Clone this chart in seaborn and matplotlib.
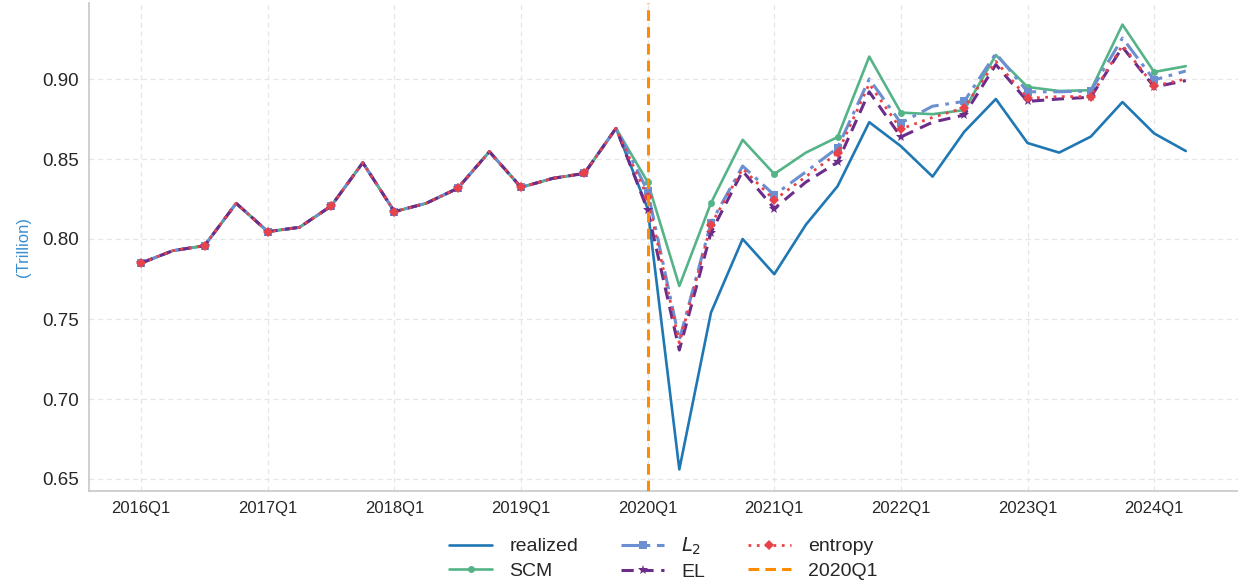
import numpy as np
import pandas as pd
import matplotlib
matplotlib.use("Agg")
import matplotlib.pyplot as plt
import seaborn as sns

# ---------------- data ----------------
quarters = [f"{y}Q{q}" for y in range(2016, 2025) for q in range(1, 5)][:34]
tick_labels = [f"{y}Q1" for y in range(2016, 2025)]

realized = [0.785, 0.7927, 0.7958, 0.8223, 0.8046, 0.8073, 0.8206, 0.8477,
            0.8171, 0.8223, 0.8317, 0.8546, 0.8323, 0.8379, 0.841, 0.8692,
            0.819, 0.656, 0.754, 0.800, 0.778, 0.809, 0.833, 0.873,
            0.858, 0.839, 0.867, 0.8875, 0.860, 0.854, 0.864, 0.8856,
            0.866, 0.855]
scm = [0.785, 0.7927, 0.7958, 0.8223, 0.8046, 0.8073, 0.8206, 0.8477,
       0.8171, 0.8223, 0.8317, 0.8546, 0.8323, 0.8379, 0.841, 0.8692,
       0.8356, 0.7706, 0.8225, 0.862, 0.8406, 0.854, 0.8637, 0.914,
       0.879, 0.878, 0.8806, 0.915, 0.895, 0.8925, 0.893, 0.934,
       0.9044, 0.908]
l2 = [0.785, 0.7927, 0.7958, 0.8223, 0.8046, 0.8073, 0.8206, 0.8477,
      0.8171, 0.8223, 0.8317, 0.8546, 0.8323, 0.8379, 0.841, 0.8692,
      0.830, 0.737, 0.810, 0.8456, 0.8275, 0.842, 0.857, 0.900,
      0.8725, 0.883, 0.886, 0.916, 0.892, 0.892, 0.8925, 0.9256,
      0.8994, 0.905]
el = [0.785, 0.7927, 0.7958, 0.8223, 0.8046, 0.8073, 0.8206, 0.8477,
      0.8171, 0.8223, 0.8317, 0.8546, 0.8323, 0.8379, 0.841, 0.8692,
      0.818, 0.7306, 0.804, 0.8425, 0.819, 0.8356, 0.848, 0.892,
      0.8638, 0.873, 0.8775, 0.909, 0.886, 0.8875, 0.8886, 0.920,
      0.895, 0.899]
entropy = [0.785, 0.7927, 0.7958, 0.8223, 0.8046, 0.8073, 0.8206, 0.8477,
           0.8171, 0.8223, 0.8317, 0.8546, 0.8323, 0.8379, 0.841, 0.8692,
           0.826, 0.735, 0.809, 0.844, 0.8244, 0.839, 0.8537, 0.897,
           0.8687, 0.876, 0.882, 0.911, 0.888, 0.889, 0.889, 0.921,
           0.8956, 0.900]
event_quarter = "2020Q1"

# ---------------- style ----------------
sns.set_theme(style="whitegrid")
plt.rcParams["font.family"] = ["Liberation Sans", "DejaVu Sans"]
plt.rcParams["mathtext.fontset"] = "dejavusans"

fig = plt.figure(figsize=(12.38, 5.88), dpi=100)
ax = fig.add_axes([89 / 1238, 97 / 588, (1238 - 89) / 1238, (491 - 3) / 588])

x = np.arange(len(quarters))
df = pd.DataFrame({"x": x, "realized": realized, "SCM": scm, "L2": l2,
                   "EL": el, "entropy": entropy})

lw = 1.9
sns.lineplot(data=df, x="x", y="realized", ax=ax, color="#1f77b4", lw=lw,
             label="realized", zorder=2)
sns.lineplot(data=df, x="x", y="SCM", ax=ax, color="#55b487", lw=lw,
             marker="o", markersize=5, markeredgewidth=0, markevery=2,
             label="SCM", zorder=3)
sns.lineplot(data=df, x="x", y="L2", ax=ax, color="#6b8fd0", lw=2.2,
             marker="s", markersize=6, markeredgewidth=0, markevery=2,
             linestyle=(0, (6, 2.2, 1.2, 2.2)), label="$L_2$", zorder=4)
sns.lineplot(data=df, x="x", y="EL", ax=ax, color="#6c2d8a", lw=2.2,
             marker="*", markersize=7, markeredgewidth=0, markevery=2,
             linestyle=(0, (4, 2.5)), label="EL", zorder=5)
sns.lineplot(data=df, x="x", y="entropy", ax=ax, color="#e8434a", lw=2.0,
             marker="D", markersize=5.5, markeredgewidth=0, markevery=2,
             linestyle=(0, (1, 2)), label="entropy", zorder=6)

ev = quarters.index(event_quarter)
ax.axvline(ev, color="#ff8c00", lw=2.2, linestyle=(0, (3.5, 2)),
           label=event_quarter, zorder=7)

ax.set_xlim(-1.65, len(quarters) - 1 + 1.65)
ax.set_ylim(0.6425, 0.9475)
ax.set_xticks(x[::4])
ax.set_xticklabels(tick_labels, fontsize=12, color="#262626")
ax.set_yticks([0.65, 0.70, 0.75, 0.80, 0.85, 0.90])
ax.set_yticklabels([f"{v:.2f}" for v in [0.65, 0.70, 0.75, 0.80, 0.85, 0.90]],
                   fontsize=13.5, color="#262626")
ax.set_xlabel("")
ax.set_ylabel("(Trillion)", fontsize=12, color="#3a8fd0", labelpad=8)

ax.grid(True, linestyle=(0, (4, 3)), color="#e6e6e6", lw=0.9)
for s in ["top", "right"]:
    ax.spines[s].set_visible(False)
for s in ["left", "bottom"]:
    ax.spines[s].set_color("#cccccc")
    ax.spines[s].set_linewidth(1.3)
ax.tick_params(axis="both", length=0, pad=7)

ax.legend(loc="upper center", bbox_to_anchor=(0.5, -0.055), ncol=3,
          frameon=False, fontsize=14, handlelength=2.2, columnspacing=2.2,
          labelspacing=0.35, handletextpad=0.9)

fig.savefig("out.png", dpi=100)
